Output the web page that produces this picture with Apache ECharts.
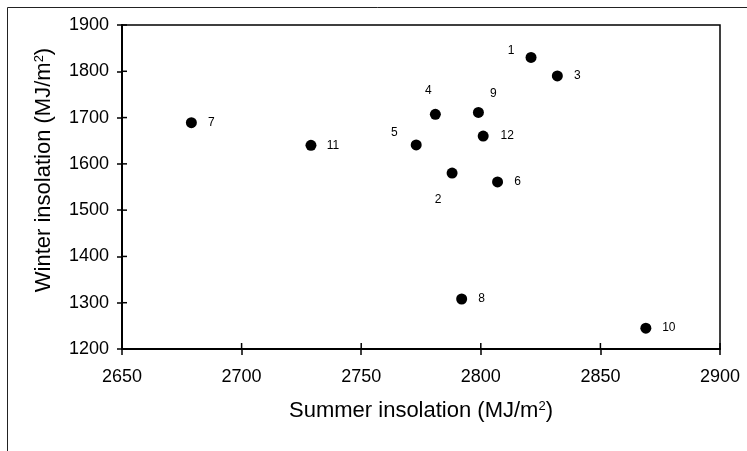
<!DOCTYPE html>
<html>
<head>
<meta charset="utf-8">
<script src="https://cdn.jsdelivr.net/npm/echarts@6/dist/echarts.min.js"></script>
<style>html,body{margin:0;padding:0;background:#fff;}#c{width:747px;height:451px;}</style>
</head>
<body>
<div id="c"></div>
<script>
var siteLabels = ['1','2','3','4','5','6','7','8','9','10','11','12'];
var summerInsolation = [2821, 2788, 2832, 2781, 2773, 2807, 2679, 2792, 2799, 2869, 2729, 2801];
var winterInsolation = [1830, 1580, 1790, 1707, 1641, 1561, 1689, 1308, 1711, 1245, 1640, 1660];
var xTicks = [2650, 2700, 2750, 2800, 2850, 2900];
var yTicks = [1200, 1300, 1400, 1500, 1600, 1700, 1800, 1900];

// label placement (style only)
var labelOffsets = [[-20,-7],[-14,27],[20,0],[-7,-24],[-22,-12],[20,0],[20,0],[20,0],[15,-19],[23,0],[22,0],[24,0]];

var font = 'Liberation Sans, Arial, sans-serif';
var data = siteLabels.map(function(n,i){
  return {name:n, value:[summerInsolation[i], winterInsolation[i]],
    label:{offset:labelOffsets[i]}};
});
var xMin = xTicks[0], xMax = xTicks[xTicks.length-1];
var yMin = yTicks[0], yMax = yTicks[yTicks.length-1];
var chart = echarts.init(document.getElementById('c'), null, {renderer:'canvas'});
var tickStyle = {color:'#000', width:1.5};
var richTitle = {a:{fontSize:22, fontFamily:font, color:'#000'}, s:{fontSize:13, fontFamily:font, color:'#000', verticalAlign:'top'}};

// inward half of the crossing tick marks, positioned through the axis scales
function innerTick(isX){
  return function(params, api){
    var p = api.coord([api.value(0), api.value(1)]);
    var len = isX ? 6 : 5;
    return {type:'line', silent:true,
      shape: isX ? {x1:p[0], y1:p[1], x2:p[0], y2:p[1]-len} : {x1:p[0], y1:p[1], x2:p[0]+len, y2:p[1]},
      style:{stroke:'#000', lineWidth:1.5}};
  };
}

chart.setOption({
  animation:false,
  backgroundColor:'#fff',
  graphic:[{type:'rect', shape:{x:7.5,y:7.5,width:800,height:500}, style:{fill:'none', stroke:'#222', lineWidth:1}}],
  grid:{left:122, right:27, top:25, bottom:102, show:true, borderColor:'#000', borderWidth:1.5, backgroundColor:'transparent'},
  xAxis:{type:'value', min:xMin, max:xMax, interval:xTicks[1]-xTicks[0], position:'bottom', splitLine:{show:false},
    axisLine:{show:true, onZero:false, lineStyle:{color:'#000', width:2}},
    axisTick:{show:true, inside:false, length:6, lineStyle:tickStyle},
    axisLabel:{color:'#000', fontSize:18, fontFamily:font, margin:19, formatter:function(v){return String(v);}},
    name:'{a|Summer insolation (MJ/m}{s|2}{a|)}', nameLocation:'middle', nameGap:51,
    nameTextStyle:{color:'#000', fontFamily:font, fontSize:22, rich:richTitle}},
  yAxis:{type:'value', min:yMin, max:yMax, interval:yTicks[1]-yTicks[0], position:'left', splitLine:{show:false},
    axisLine:{show:true, onZero:false, lineStyle:{color:'#000', width:2}},
    axisTick:{show:true, inside:false, length:5, lineStyle:tickStyle},
    axisLabel:{color:'#000', fontSize:18, fontFamily:font, margin:13, formatter:function(v){return String(v);}},
    name:'{a|Winter insolation (MJ/m}{s|2}{a|)}', nameLocation:'middle', nameGap:67,
    nameTextStyle:{color:'#000', fontFamily:font, fontSize:22, padding:[0,0,0,34], rich:richTitle}},
  series:[{
    type:'custom', silent:true, clip:false, renderItem:innerTick(true),
    data:xTicks.map(function(v){ return [v, yMin]; })
  }, {
    type:'custom', silent:true, clip:false, renderItem:innerTick(false),
    data:yTicks.map(function(v){ return [xMin, v]; })
  }, {
    type:'scatter', symbol:'circle', symbolSize:11,
    itemStyle:{color:'#000', opacity:1},
    label:{show:true, position:'inside', formatter:'{b}', color:'#000', fontSize:12, fontFamily:font},
    emphasis:{disabled:true},
    data:data
  }]
});
</script>
</body>
</html>
